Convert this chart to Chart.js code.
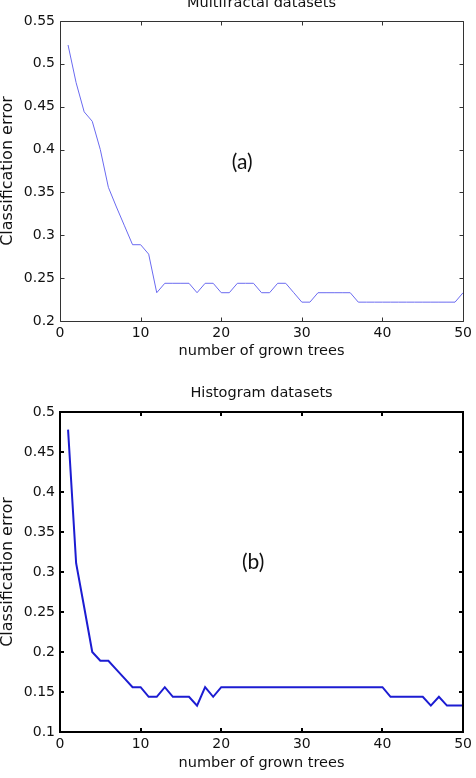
<!DOCTYPE html>
<html>
<head>
<meta charset="utf-8">
<script src="https://cdn.jsdelivr.net/npm/chart.js@4.4.1/dist/chart.umd.min.js"></script>
<style>
  html, body { margin: 0; padding: 0; background: #fff; }
  #wrapA { position: absolute; left: 0; top: 0; width: 476px; height: 370px; }
  #wrapB { position: absolute; left: 0; top: 370px; width: 476px; height: 408px; }
</style>
</head>
<body>
<div id="wrapA"><canvas id="chartA" width="476" height="370"></canvas></div>
<div id="wrapB"><canvas id="chartB" width="476" height="408"></canvas></div>
<script>
// ---- data ----
const trees = [1,2,3,4,5,6,7,8,9,10,11,12,13,14,15,16,17,18,19,20,21,22,23,24,25,26,27,28,29,30,31,32,33,34,35,36,37,38,39,40,41,42,43,44,45,46,47,48,49,50];
const errorMultifractal = [0.522,0.478,0.444,0.433,0.400,0.356,0.333,0.311,0.289,0.289,
  0.278,0.233,0.244,0.244,0.244,0.244,0.233,0.244,0.244,0.233,
  0.233,0.244,0.244,0.244,0.233,0.233,0.244,0.244,0.233,0.222,
  0.222,0.233,0.233,0.233,0.233,0.233,0.222,0.222,0.222,0.222,
  0.222,0.222,0.222,0.222,0.222,0.222,0.222,0.222,0.222,0.233];
const errorHistogram = [0.478,0.311,0.256,0.200,0.189,0.189,0.178,0.167,0.156,0.156,
  0.144,0.144,0.156,0.144,0.144,0.144,0.133,0.156,0.144,0.156,
  0.156,0.156,0.156,0.156,0.156,0.156,0.156,0.156,0.156,0.156,
  0.156,0.156,0.156,0.156,0.156,0.156,0.156,0.156,0.156,0.156,
  0.144,0.144,0.144,0.144,0.144,0.133,0.144,0.133,0.133,0.133];
const xTicks = [0, 10, 20, 30, 40, 50];
const yTicksA = [0.2, 0.25, 0.3, 0.35, 0.4, 0.45, 0.5, 0.55];
const yTicksB = [0.1, 0.15, 0.2, 0.25, 0.3, 0.35, 0.4, 0.45, 0.5];
const titleA = 'Multifractal datasets';
const titleB = 'Histogram datasets';
const xTitle = 'number of grown trees';
const yTitle = 'Classification error';
const labelA = { text: '(a)', x: 22.6, y: 0.385 };
const labelB = { text: '(b)', x: 23.95, y: 0.312 };

const tickFont = { family: 'DejaVu Sans', size: 14 };
const titleFont = { family: 'DejaVu Sans', size: 14.5 };
const yTitleFont = { family: 'DejaVu Sans', size: 16 };

const matlabBox = {
  id: 'matlabBox',
  afterDraw(chart, args, o) {
    const { ctx, chartArea: a, scales: { x, y } } = chart;
    const off = o.width % 2 === 1 ? 0.5 : 0;
    const L = Math.round(a.left) + off, R = Math.round(a.right) + off;
    const T = Math.round(a.top) + off, B = Math.round(a.bottom) + off;
    ctx.save();
    ctx.strokeStyle = o.color;
    ctx.lineWidth = o.width;
    ctx.beginPath();
    ctx.rect(L, T, R - L, B - T);
    const tl = o.tick;
    x.ticks.forEach(t => {
      const px = Math.round(x.getPixelForValue(t.value)) + off;
      ctx.moveTo(px, B); ctx.lineTo(px, B - tl);
      ctx.moveTo(px, T); ctx.lineTo(px, T + tl);
    });
    y.ticks.forEach(t => {
      const py = Math.round(y.getPixelForValue(t.value)) + off;
      ctx.moveTo(L, py); ctx.lineTo(L + tl, py);
      ctx.moveTo(R, py); ctx.lineTo(R - tl, py);
    });
    ctx.stroke();
    // title centred over the plot area
    ctx.fillStyle = '#111';
    ctx.font = titleFont.size + 'px "' + titleFont.family + '"';
    ctx.textAlign = 'center';
    ctx.textBaseline = 'alphabetic';
    ctx.fillText(o.title, (a.left + a.right) / 2, o.titleY);
    // panel label anchored in data coordinates
    ctx.font = '21px Lato';
    ctx.textBaseline = 'middle';
    ctx.fillText(o.label.text, x.getPixelForValue(o.label.x), y.getPixelForValue(o.label.y));
    ctx.restore();
  }
};

function makeChart(id, values, yTicks, opts) {
  const points = trees.map((t, i) => ({ x: t, y: values[i] }));
  return new Chart(document.getElementById(id), {
    type: 'line',
    data: {
      datasets: [{
        data: points,
        borderColor: opts.lineColor,
        borderWidth: opts.lineWidth,
        pointRadius: 0,
        tension: 0,
        fill: false
      }]
    },
    options: {
      responsive: false,
      animation: false,
      devicePixelRatio: 1,
      layout: { padding: { top: opts.padTop, right: 11, left: 0, bottom: 0 } },
      plugins: {
        legend: { display: false },
        tooltip: { enabled: false },
        title: { display: false },
        matlabBox: {
          color: opts.boxColor, width: opts.boxWidth, tick: 4,
          title: opts.title, titleY: opts.titleY, label: opts.label
        }
      },
      scales: {
        x: {
          type: 'linear',
          min: xTicks[0], max: xTicks[xTicks.length - 1],
          afterBuildTicks: s => { s.ticks = xTicks.map(v => ({ value: v })); },
          afterFit: s => { s.height = opts.xHeight; },
          grid: { display: false, drawTicks: false },
          border: { display: false },
          ticks: { font: tickFont, color: '#111', padding: 4, maxRotation: 0, autoSkip: false,
                   callback: v => String(v) },
          title: { display: true, text: xTitle, font: titleFont, color: '#111',
                   padding: { top: 0, bottom: opts.xTitlePad } }
        },
        y: {
          type: 'linear',
          min: yTicks[0], max: yTicks[yTicks.length - 1],
          afterBuildTicks: s => { s.ticks = yTicks.map(v => ({ value: v })); },
          afterFit: s => { s.width = 60; },
          grid: { display: false, drawTicks: false },
          border: { display: false },
          ticks: { font: tickFont, color: '#111', padding: 5, autoSkip: false,
                   callback: v => String(parseFloat(Number(v).toFixed(2))) },
          title: { display: true, text: yTitle, font: yTitleFont, color: '#111',
                   padding: { top: -2, bottom: 0 } }
        }
      }
    },
    plugins: [matlabBox]
  });
}

makeChart('chartA', errorMultifractal, yTicksA, {
  lineColor: '#6a6af0', lineWidth: 1, boxColor: '#333', boxWidth: 1,
  padTop: 21, xHeight: 49, xTitlePad: 9.6, title: titleA, titleY: 6.5, label: labelA
});
makeChart('chartB', errorHistogram, yTicksB, {
  lineColor: '#1c1cd2', lineWidth: 2, boxColor: '#000', boxWidth: 2,
  padTop: 42, xHeight: 46, xTitlePad: 6, title: titleB, titleY: 26.7, label: labelB
});
</script>
</body>
</html>
